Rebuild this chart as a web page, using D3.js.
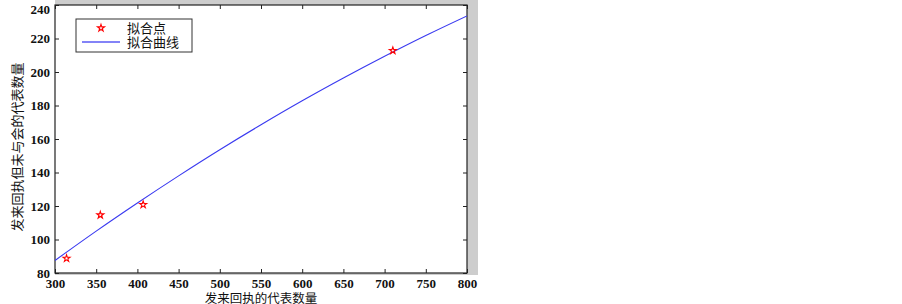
<!DOCTYPE html>
<html><head><meta charset="utf-8">
<script src="https://cdn.jsdelivr.net/npm/d3@7"></script>
<style>body{margin:0;background:#fff}svg{display:block}</style>
</head><body>
<svg id="c" width="902" height="304"></svg>
<script>
const pointX = [314, 355, 407, 710];
const pointY = [88.7, 114.6, 120.8, 212.8];
const curveX = [300, 350, 400, 450, 500, 550, 600, 650, 700, 750, 800];
const curveY = [87.5, 105.0, 121.8, 138.0, 153.6, 168.5, 182.8, 196.4, 209.4, 221.8, 233.5];
const xTicks = [300, 350, 400, 450, 500, 550, 600, 650, 700, 750, 800];
const yTicks = [80, 100, 120, 140, 160, 180, 200, 220, 240];
const legendLabels = ["拟合点", "拟合曲线"];
const xLabel = "发来回执的代表数量";
const yLabel = "发来回执但未与会的代表数量";

const svg = d3.select("#c");
const L = 55, R = 467, T = 5, B = 273;
const x = d3.scaleLinear().domain([300, 800]).range([L, R]);
const y = d3.scaleLinear().domain([80, 240]).range([B, T]);
const numFont = "'Liberation Serif','DejaVu Serif',serif";
const cjkFont = "'Liberation Serif','Noto Sans CJK SC',serif";

svg.append("rect").attr("x", L).attr("y", 0).attr("width", 478 - L).attr("height", 275).attr("fill", "#cdcdcd");
svg.append("rect").attr("x", L).attr("y", T).attr("width", R - L).attr("height", B - T).attr("fill", "#fff");

const axStyle = g => {
  g.select(".domain").remove();
  g.selectAll("line").attr("stroke", "#222");
  g.selectAll("text").attr("font-family", numFont).attr("font-size", 13).attr("font-weight", "bold").attr("fill", "#111");
};
svg.append("g").attr("transform", `translate(0,${B})`)
  .call(d3.axisBottom(x).tickValues(xTicks).tickSize(-4).tickPadding(6).tickFormat(d3.format("d"))).call(axStyle);
const yAx = svg.append("g").attr("transform", `translate(${L},0)`)
  .call(d3.axisLeft(y).tickValues(yTicks).tickSize(-4).tickPadding(5).tickFormat(d3.format("d"))).call(axStyle);
yAx.selectAll("text").filter(d => d === 240).attr("dy", "0.62em");
svg.append("g").attr("transform", `translate(0,${T})`)
  .call(d3.axisTop(x).tickValues(xTicks).tickSize(-4).tickFormat("")).call(axStyle);
svg.append("g").attr("transform", `translate(${R},0)`)
  .call(d3.axisRight(y).tickValues(yTicks).tickSize(-4).tickFormat("")).call(axStyle);
svg.append("rect").attr("x", L).attr("y", T).attr("width", R - L).attr("height", B - T)
  .attr("fill", "none").attr("stroke", "#222").attr("stroke-width", 1.2);

svg.append("clipPath").attr("id", "pc").append("rect").attr("x", L).attr("y", T).attr("width", R - L).attr("height", B - T);
const line = d3.line().x((d, i) => x(curveX[i])).y(d => y(d)).curve(d3.curveMonotoneX);
svg.append("path").attr("d", line(curveY)).attr("fill", "none").attr("stroke", "#3a3af0").attr("stroke-width", 1.1).attr("clip-path", "url(#pc)");

const star = d3.symbol().type(d3.symbolStar).size(15);
svg.selectAll(".pt").data(pointX).enter().append("path")
  .attr("transform", (d, i) => `translate(${x(d)},${y(pointY[i])})`)
  .attr("d", star()).attr("fill", "none").attr("stroke", "#ff0000").attr("stroke-width", 1.1);

// legend
const lg = svg.append("g");
lg.append("rect").attr("x", 76).attr("y", 19).attr("width", 116).attr("height", 33).attr("fill", "#fff").attr("stroke", "#333").attr("stroke-width", 1);
lg.append("path").attr("transform", "translate(101,28)").attr("d", star()).attr("fill", "none").attr("stroke", "#ff0000").attr("stroke-width", 1.1);
lg.append("line").attr("x1", 82).attr("x2", 120).attr("y1", 42).attr("y2", 42).attr("stroke", "#5a5af5").attr("stroke-width", 1.5);
lg.selectAll("text").data(legendLabels).enter().append("text")
  .attr("x", 127).attr("y", (d, i) => 32.5 + i * 14).text(d => d)
  .attr("font-family", cjkFont).attr("font-size", 13).attr("fill", "#111");

svg.append("text").attr("x", 261).attr("y", 302.5).attr("text-anchor", "middle").text(xLabel)
  .attr("font-family", cjkFont).attr("font-size", 12.5).attr("fill", "#111");
svg.append("text").attr("transform", "translate(22,147) rotate(-90)").attr("text-anchor", "middle").text(yLabel)
  .attr("font-family", cjkFont).attr("font-size", 13).attr("fill", "#111");
</script>
</body></html>
